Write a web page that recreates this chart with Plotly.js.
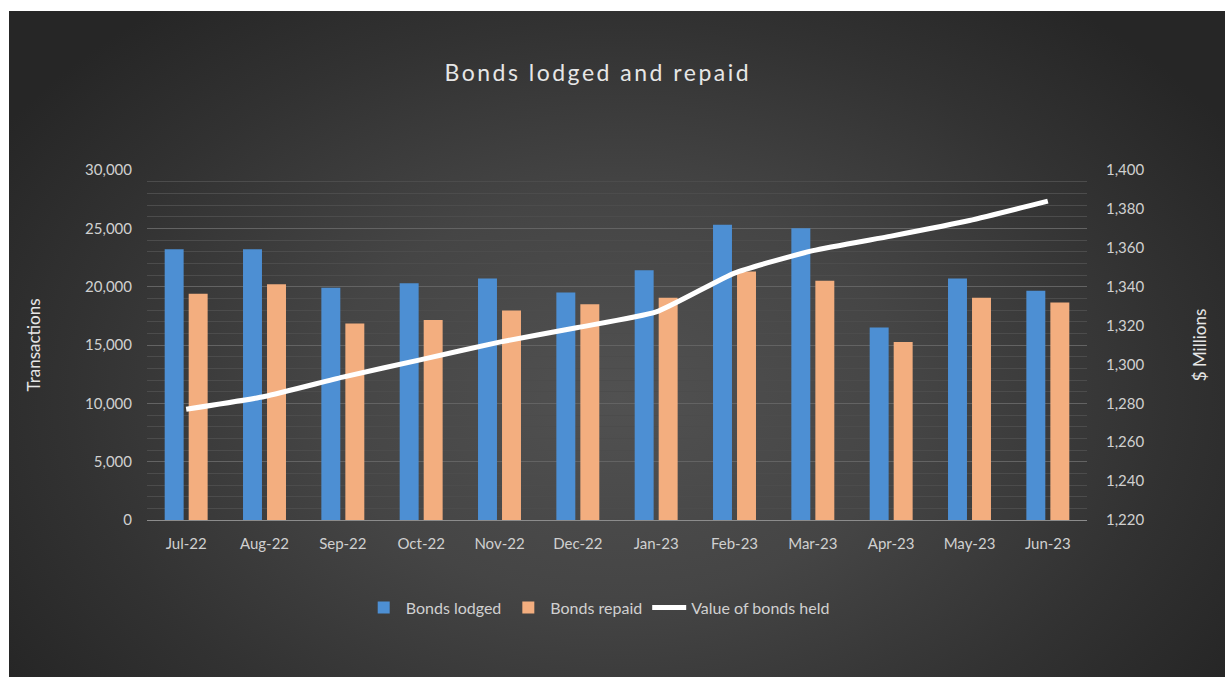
<!DOCTYPE html>
<html>
<head>
<meta charset="utf-8">
<script src="https://cdn.plot.ly/plotly-3.0.1.min.js"></script>
<style>
  html, body { margin: 0; padding: 0; background: #ffffff; width: 1225px; height: 677px; overflow: hidden; }
  #bg { position: absolute; left: 9px; top: 11px; width: 1216px; height: 666px;
        background: radial-gradient(ellipse 60% 75% at 50% 58%, #515151 0%, #454545 40%, #323232 75%, #262626 100%); }
  #chart { position: absolute; left: 0; top: 0; width: 1225px; height: 677px; }
  .gtitle { letter-spacing: 2.5px; }
</style>
</head>
<body>
<div id="bg"></div>
<div id="chart"></div>
<script>
const months = ["Jul-22","Aug-22","Sep-22","Oct-22","Nov-22","Dec-22","Jan-23","Feb-23","Mar-23","Apr-23","May-23","Jun-23"];
const bondsLodged = [23200, 23200, 19900, 20300, 20700, 19500, 21400, 25300, 25000, 16500, 20700, 19650];
const bondsRepaid = [19400, 20200, 16850, 17150, 17950, 18500, 19050, 21300, 20500, 15250, 19050, 18650];
const valueHeld = [1277, 1283.5, 1293.5, 1302.5, 1311.5, 1319, 1327, 1347, 1358.5, 1366, 1374, 1384];

const fontFam = "Lato, 'Open Sans', sans-serif";

const traces = [
  { type: "bar", name: "Bonds lodged", x: months, y: bondsLodged,
    marker: { color: "#4d8fd3" }, hoverinfo: "x+y" },
  { type: "bar", name: "Bonds repaid", x: months, y: bondsRepaid,
    marker: { color: "#f3ae7f" }, hoverinfo: "x+y" },
  { type: "scatter", mode: "lines", name: "Value of bonds held", x: months, y: valueHeld,
    yaxis: "y2", line: { color: "#ffffff", width: 5, shape: "spline", smoothing: 0.5 } }
];

const layout = {
  width: 1225, height: 677,
  paper_bgcolor: "rgba(0,0,0,0)",
  plot_bgcolor: "rgba(0,0,0,0)",
  margin: { l: 147, r: 138, t: 170, b: 157, pad: 0 },
  font: { family: fontFam, color: "#d0d0d0", size: 15 },
  title: { text: "Bonds lodged and repaid", font: { family: fontFam, size: 23, color: "#e6e6e6" },
           xref: "container", x: 0.488, xanchor: "center", yref: "container", y: 0.892, yanchor: "middle" },
  barmode: "group", bargap: 0.387, bargroupgap: 0.21,
  showlegend: true,
  legend: { orientation: "h", xref: "paper", x: 0.48, xanchor: "center", y: -0.25, yanchor: "middle",
            itemwidth: 34,
            font: { family: fontFam, size: 16, color: "#d0d0d0" }, bgcolor: "rgba(0,0,0,0)", traceorder: "normal" },
  xaxis: { type: "category", showgrid: false, zeroline: false, showline: true, linecolor: "#8c8c8c", linewidth: 1,
           ticks: "", ticklabelstandoff: 10, tickfont: { family: fontFam, size: 15, color: "#d0d0d0" } },
  yaxis: { range: [0, 30000], dtick: 5000, tickformat: ",d", showgrid: true, gridcolor: "#636363", gridwidth: 1,
           zeroline: false, showline: false, ticks: "", ticklabelstandoff: 14,
           minor: { dtick: 1000, showgrid: true, gridcolor: "#4c4c4c", gridwidth: 1 },
           tickfont: { family: fontFam, size: 15, color: "#d0d0d0" },
           title: { text: "Transactions", font: { family: fontFam, size: 17, color: "#e6e6e6" }, standoff: 40 } },
  yaxis2: { overlaying: "y", side: "right", range: [1220, 1400], dtick: 20, tickformat: ",d", showgrid: false,
            zeroline: false, showline: false, ticks: "", ticklabelstandoff: 18,
            tickfont: { family: fontFam, size: 15, color: "#d0d0d0" },
            title: { text: "$ Millions", font: { family: fontFam, size: 17, color: "#e6e6e6" }, standoff: 50 } }
};

Plotly.newPlot("chart", traces, layout, { displayModeBar: false, staticPlot: true });
</script>
</body>
</html>
